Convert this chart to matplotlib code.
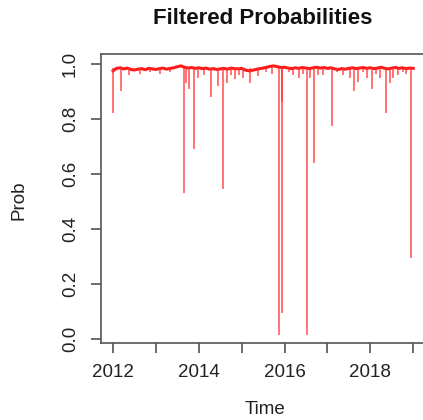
import matplotlib
matplotlib.use("Agg")
import matplotlib.pyplot as plt
import numpy as np

plt.rcParams['font.family'] = ['Liberation Sans', 'DejaVu Sans']

# monthly level of the filtered probability, Jan 2012 .. Jan 2019
baseline = [
    0.975, 0.984, 0.986, 0.982, 0.985, 0.980, 0.978, 0.981, 0.983, 0.979, 0.984, 0.982,
    0.980, 0.983, 0.985, 0.981, 0.984, 0.986, 0.990, 0.993, 0.988, 0.985, 0.987, 0.984,
    0.986, 0.983, 0.985, 0.981, 0.983, 0.980, 0.982, 0.984, 0.981, 0.985, 0.983, 0.982,
    0.984, 0.978, 0.975, 0.977, 0.980, 0.983, 0.985, 0.988, 0.991, 0.993, 0.990, 0.987,
    0.988, 0.985, 0.983, 0.986, 0.984, 0.987, 0.985, 0.983, 0.986, 0.988, 0.985, 0.987,
    0.984, 0.986, 0.982, 0.980, 0.983, 0.981, 0.984, 0.986, 0.983, 0.985, 0.987, 0.984,
    0.986, 0.983, 0.985, 0.988, 0.984, 0.982, 0.985, 0.987, 0.984, 0.986, 0.983, 0.985,
    0.984,
]

# short-lived drops away from the regime (decimal year, probability)
dip_time = [
    2012.00, 2012.18, 2012.37, 2012.62, 2012.86, 2013.09, 2013.32, 2013.65, 2013.70,
    2013.77, 2013.88, 2013.98, 2014.12, 2014.28, 2014.44, 2014.56, 2014.65, 2014.74,
    2014.84, 2014.93, 2015.03, 2015.19, 2015.38, 2015.56, 2015.70, 2015.87, 2015.94,
    2015.95, 2016.10, 2016.19, 2016.33, 2016.43, 2016.52, 2016.59, 2016.68, 2016.78,
    2016.89, 2017.10, 2017.22, 2017.36, 2017.52, 2017.62, 2017.71, 2017.82, 2017.92,
    2018.04, 2018.13, 2018.22, 2018.36, 2018.46, 2018.53, 2018.64, 2018.76, 2018.83,
    2018.94,
]
dip_prob = [
    0.82, 0.90, 0.96, 0.965, 0.97, 0.965, 0.97, 0.53, 0.93,
    0.91, 0.69, 0.95, 0.96, 0.88, 0.92, 0.545, 0.93, 0.96,
    0.945, 0.96, 0.95, 0.93, 0.955, 0.97, 0.965, 0.015, 0.095,
    0.86, 0.97, 0.96, 0.95, 0.965, 0.015, 0.95, 0.64, 0.96,
    0.96, 0.775, 0.97, 0.96, 0.95, 0.90, 0.935, 0.97, 0.95,
    0.91, 0.965, 0.95, 0.82, 0.93, 0.95, 0.96, 0.97, 0.965,
    0.295,
]

year_ticks = [2012, 2013, 2014, 2015, 2016, 2017, 2018, 2019]
year_labels = ['2012', '', '2014', '', '2016', '', '2018', '']
prob_ticks = [0.0, 0.2, 0.4, 0.6, 0.8, 1.0]

base_time = 2012 + np.arange(len(baseline)) / 12

fig = plt.figure(figsize=(4.23, 4.2), dpi=100)
ax = fig.add_axes([0.2388, 0.1833, 0.7664, 0.688])

ax.plot(base_time, baseline, color='#ff1a1a', lw=2.2)
ax.vlines(dip_time, dip_prob, 0.985, color='#ff3030', lw=1.1, alpha=0.85)

ax.set_xlim(2011.72, 2019.28)
ax.set_ylim(-0.015, 1.036)
ax.set_xticks(year_ticks)
ax.set_xticklabels(year_labels)
ax.set_yticks(prob_ticks)
ax.set_yticklabels([f'{v:.1f}' for v in prob_ticks], rotation=90, va='center')

for s in ax.spines.values():
    s.set_color('#555555')
    s.set_linewidth(1.2)
ax.tick_params(axis='both', length=7, width=1.1, color='#444444',
               labelsize=13.5, labelcolor='#222222')
ax.tick_params(axis='x', pad=8)
ax.tick_params(axis='y', pad=9)

fig.text(0.6217, 0.955, 'Filtered Probabilities', ha='center', va='center',
         fontsize=16, fontweight='bold', color='#111111')
fig.text(0.626, 0.024, 'Time', ha='center', va='center', fontsize=13.5, color='#222222')
fig.text(0.045, 0.524, 'Prob', ha='center', va='center', rotation=90,
         fontsize=13.5, color='#222222')

fig.savefig('out.png', dpi=100)
